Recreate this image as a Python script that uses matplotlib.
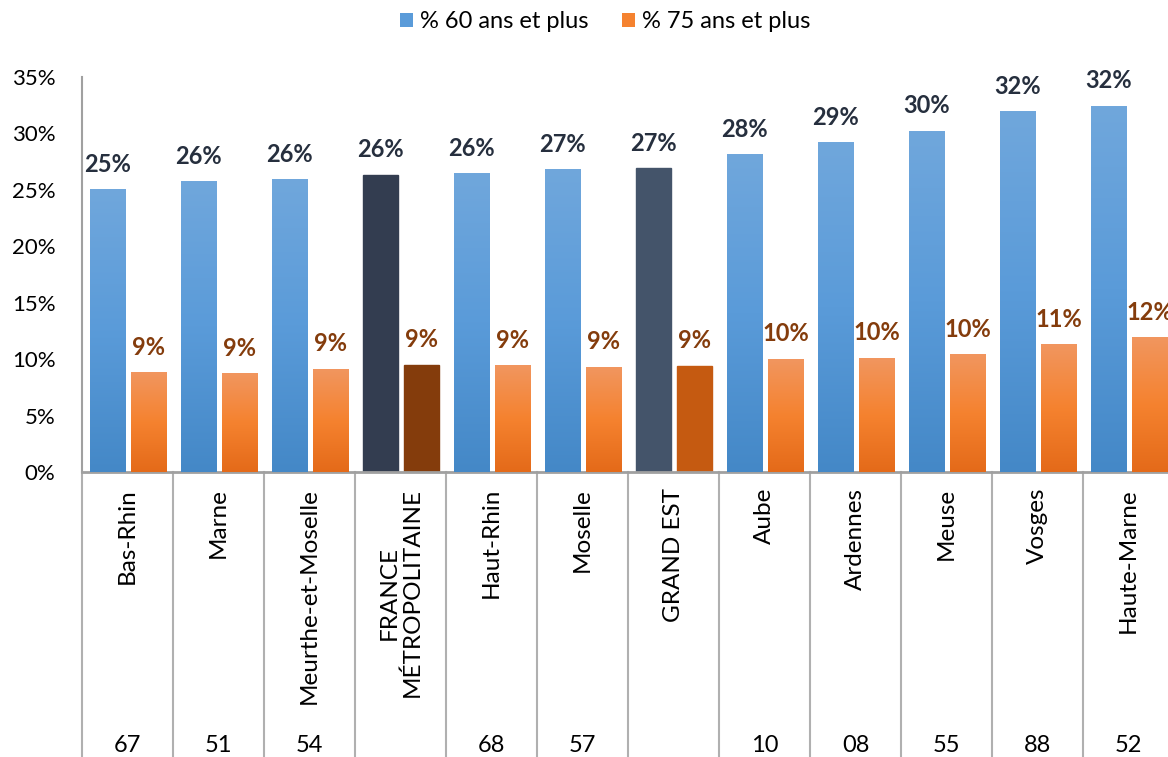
import matplotlib.pyplot as plt
import numpy as np
import matplotlib.transforms as mtransforms
from matplotlib.patches import Patch
from matplotlib.colors import LinearSegmentedColormap

plt.rcParams['font.family'] = ['Lato', 'DejaVu Sans']

# Data
regions = ['Bas-Rhin', 'Marne', 'Meurthe-et-Moselle', 'FRANCE\nMÉTROPOLITAINE',
           'Haut-Rhin', 'Moselle', 'GRAND EST', 'Aube', 'Ardennes', 'Meuse',
           'Vosges', 'Haute-Marne']
dept_codes = ['67', '51', '54', '', '68', '57', '', '10', '08', '55', '88', '52']
pct_60 = [25.0, 25.7, 25.9, 26.3, 26.45, 26.8, 26.9, 28.1, 29.2, 30.2, 31.9, 32.4]
pct_75 = [8.8, 8.7, 9.1, 9.45, 9.4, 9.3, 9.4, 10.0, 10.1, 10.4, 11.3, 11.9]

# special (solid) colours for the reference rows
special_60 = {3: '#333d50', 6: '#44546a'}
special_75 = {3: '#843c0c', 6: '#c55a11'}

blue_grad = ['#4488c7', '#5a9bd9', '#70a7dc']
orange_grad = ['#e46a19', '#f5822f', '#f1965f']

fig = plt.figure(figsize=(11.68, 7.57), dpi=100)
ax = fig.add_axes([82 / 1168, 1 - 472 / 757, 1092 / 1168, 395 / 757])

x = np.arange(len(regions))
w = 0.385


def gradient_fill(ax, bar, colors):
    cmap = LinearSegmentedColormap.from_list('g', colors)
    x0, y0 = bar.get_x(), bar.get_y()
    grad = np.linspace(0, 1, 256).reshape(-1, 1)
    ax.imshow(grad, extent=[x0, x0 + bar.get_width(), y0, y0 + bar.get_height()],
              origin='lower', aspect='auto', cmap=cmap, zorder=3)
    bar.set_alpha(0)


bars60 = ax.bar(x - 0.22, pct_60, width=w, color='#5a9bd9', zorder=2)
bars75 = ax.bar(x + 0.23, pct_75, width=w, color='#f5822f', zorder=2)

for i, b in enumerate(bars60):
    if i in special_60:
        b.set_color(special_60[i])
    else:
        gradient_fill(ax, b, blue_grad)
for i, b in enumerate(bars75):
    if i in special_75:
        b.set_color(special_75[i])
    else:
        gradient_fill(ax, b, orange_grad)

# value labels
for i in range(len(regions)):
    ax.annotate(f'{pct_60[i]:.0f}%', (x[i] - 0.22, pct_60[i]), xytext=(0, 10),
                textcoords='offset points', ha='center', va='bottom',
                fontsize=17, fontweight='bold', color='#262f3e', zorder=5)
    ax.annotate(f'{pct_75[i]:.0f}%', (x[i] + 0.23, pct_75[i]), xytext=(0, 10),
                textcoords='offset points', ha='center', va='bottom',
                fontsize=17, fontweight='bold', color='#843c0c', zorder=5,
                annotation_clip=False)

ax.set_xlim(-0.5, len(regions) - 0.5)
ax.set_ylim(0, 35)
ax.set_yticks(np.arange(0, 36, 5))
ax.set_yticklabels([f'{v}%' for v in range(0, 36, 5)])
ax.tick_params(axis='y', length=0, pad=19, labelsize=16)
ax.set_xticks([])

for s in ['top', 'right']:
    ax.spines[s].set_visible(False)
ax.spines['left'].set_color('#a0a0a0')
ax.spines['left'].set_linewidth(1.5)
ax.spines['bottom'].set_color('#a0a0a0')
ax.spines['bottom'].set_linewidth(2)

# multi-level category axis
trans = mtransforms.blended_transform_factory(ax.transData, fig.transFigure)
y_axis_fig = 1 - 472 / 757
for b in np.arange(-0.5, len(regions), 1.0):
    ax.plot([b, b], [0, y_axis_fig], transform=trans, color='#b0b0b0',
            lw=1.5, clip_on=False)
for i, name in enumerate(regions):
    ax.text(x[i], 1 - 488 / 757, name, transform=trans, rotation=90,
            ha='center', va='top', multialignment='center', fontsize=17.5,
            linespacing=1.1)
    ax.text(x[i], 12 / 757, dept_codes[i], transform=trans,
            ha='center', va='center', fontsize=17)

handles = [Patch(facecolor='#5a9bd9', label='% 60 ans et plus'),
           Patch(facecolor='#f5822f', label='% 75 ans et plus')]
fig.legend(handles=handles, loc='center', bbox_to_anchor=(0.518, 0.971), ncol=2,
           frameon=False, fontsize=17, handlelength=0.55, handleheight=0.55,
           handletextpad=0.3, columnspacing=1.4)

fig.savefig('out.png', dpi=100)
